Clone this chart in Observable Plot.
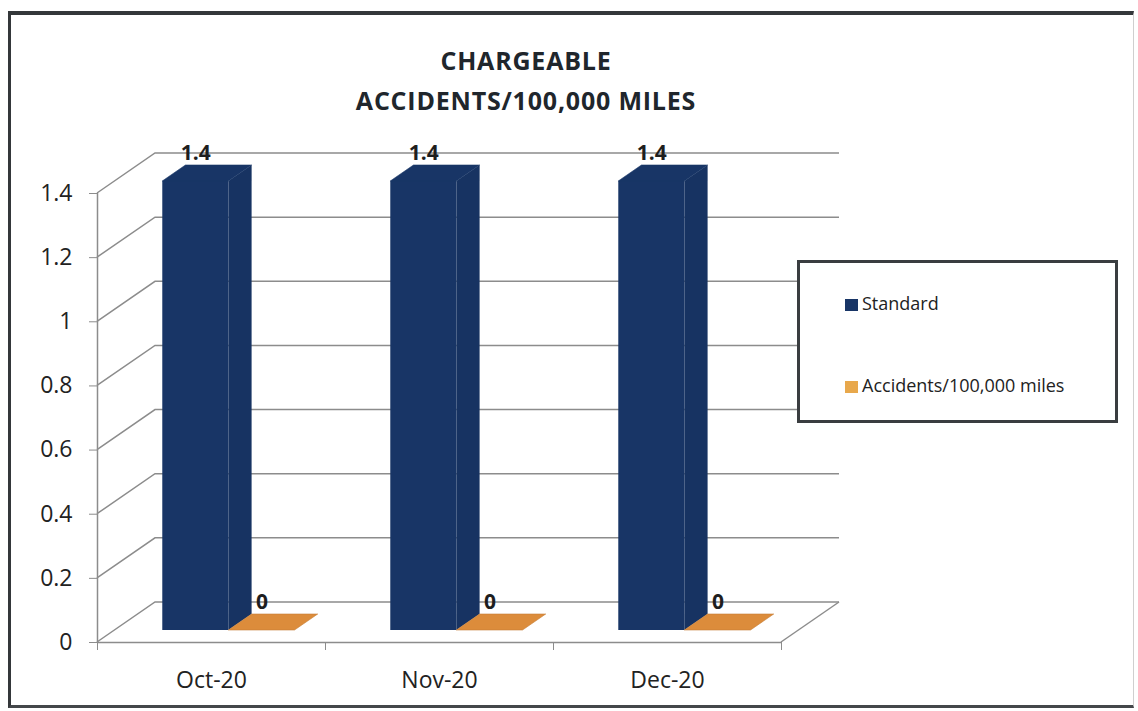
<!DOCTYPE html>
<html>
<head>
<meta charset="utf-8">
<script src="https://cdn.jsdelivr.net/npm/d3@7"></script>
<script src="https://cdn.jsdelivr.net/npm/@observablehq/plot@0.6"></script>
<style>
  body { margin: 0; background: #fff; }
  #page { position: relative; width: 1138px; height: 711px; overflow: hidden; font-family: "Open Sans", sans-serif; background: #fff; }
  #title { height: 120px; box-sizing: border-box; padding-top: 40px; width: 1052px; text-align: center;
           font-weight: 700; font-size: 25px; line-height: 40px; color: #20262c; letter-spacing: 0.8px; }
  #chart { height: 591px; }
  #legend { position: absolute; left: 797px; top: 260px; width: 321px; height: 163px; box-sizing: border-box;
            border: 3px solid #3a3d40; background: #fff; }
  .sw { position: absolute; width: 13px; height: 12px; }
  .lt { position: absolute; font-size: 18px; line-height: 24px; color: #222; white-space: nowrap; }
  #frame { position: absolute; left: 8px; top: 11px; width: 1126px; height: 697px; box-sizing: border-box;
           border-top: 4px solid #34373a; border-left: 3px solid #34373a; border-bottom: 3px solid #44474a;
           border-right: 1px solid #cfcfcf; pointer-events: none; }
</style>
</head>
<body>
<div id="page">
  <div id="title">CHARGEABLE<br>ACCIDENTS/100,000 MILES</div>
  <div id="chart"></div>
  <div id="legend"></div>
  <div id="frame"></div>
</div>
<script>
// ---- data ----
const months = ["Oct-20", "Nov-20", "Dec-20"];
const standardValues = [1.4, 1.4, 1.4];
const accidentValues = [0, 0, 0];
const seriesNames = ["Standard", "Accidents/100,000 miles"];
const seriesColors = ["#183566", "#dc8c3b"];
const legendColors = ["#183566", "#e8a84c"];
const yTicks = [0, 0.2, 0.4, 0.6, 0.8, 1, 1.2, 1.4];

// ---- 3D projection style constants ----
const DEPTH_X = 58, DEPTH_Y = -40;   // pixel projection of full floor depth
const FRONT = 0.3, BACK = 0.7;       // bar depth fractions
const BAR_W = 0.29;                  // fraction of a category slot per series

const rows = [];
months.forEach((m, i) => {
  [standardValues, accidentValues].forEach((vals, s) => {
    const x1 = i + 0.5 - BAR_W + s * BAR_W;
    rows.push({month: m, series: seriesNames[s], s, x1, x2: x1 + BAR_W, xc: x1 + BAR_W / 2, value: vals[i]});
  });
});

const GRID = "#8c8c8c";

function walls(index, {x, y}) {
  const g = d3.create("svg:g").attr("fill", "none").attr("stroke", GRID).attr("stroke-width", 1.5);
  const x0 = x(0), x3 = x(months.length);
  for (const t of yTicks) {
    const yy = y(t);
    g.append("path").attr("d", `M${x0},${yy}L${x0 + DEPTH_X},${yy + DEPTH_Y}L${x3 + DEPTH_X},${yy + DEPTH_Y}`);
  }
  g.append("path").attr("d", `M${x3},${y(0)}L${x3 + DEPTH_X},${y(0) + DEPTH_Y}`);
  return g.node();
}

function bars(index, {x, y}) {
  const g = d3.create("svg:g");
  const fx = FRONT * DEPTH_X, fy = FRONT * DEPTH_Y, bx = BACK * DEPTH_X, by = BACK * DEPTH_Y;
  const poly = pts => pts.map(p => p.join(",")).join(" ");
  for (const r of rows) {
    const c = d3.color(seriesColors[r.s]);
    const L = x(r.x1), R = x(r.x2), B = y(0), T = y(r.value);
    if (T < B) {
      g.append("polygon").attr("points", poly([[R + fx, B + fy], [R + bx, B + by], [R + bx, T + by], [R + fx, T + fy]]))
        .attr("fill", c.darker(0.12).formatHex());
      g.append("polygon").attr("points", poly([[L + fx, B + fy], [R + fx, B + fy], [R + fx, T + fy], [L + fx, T + fy]]))
        .attr("fill", c.formatHex());
    }
    g.append("polygon").attr("points", poly([[L + fx, T + fy], [R + fx, T + fy], [R + bx, T + by], [L + bx, T + by]]))
      .attr("fill", c.formatHex())
      .attr("stroke", r.value === 0 ? c.darker(0.3).formatHex() : c.formatHex()).attr("stroke-width", 0.6);
  }
  return g.node();
}

const chart = Plot.plot({
  width: 1138,
  height: 591,
  marginLeft: 97,
  marginRight: 357,
  marginTop: 73,
  marginBottom: 69,
  x: {domain: [0, months.length]},
  y: {domain: [0, 1.4]},
  style: {fontFamily: '"Open Sans", sans-serif', fontSize: "23px", color: "#222", background: "transparent", overflow: "visible"},
  marks: [
    walls,
    Plot.ruleX([0], {y1: 0, y2: 1.4, stroke: GRID, strokeWidth: 1.5}),
    Plot.ruleY([0], {x1: 0, x2: months.length, stroke: GRID, strokeWidth: 1.5}),
    bars,
    Plot.text(rows, {
      x: "xc", y: "value", text: d => String(d.value),
      dx: FRONT * DEPTH_X, dy: BACK * DEPTH_Y - 12,
      fontWeight: "bold", fontSize: 21, fill: "#1e1e1e"
    }),
    Plot.axisY({ticks: yTicks, tickFormat: d => String(d), tickSize: 8, tickPadding: 17, stroke: GRID, fill: "#222", fontSize: 23, label: null}),
    Plot.axisX({ticks: months.map((m, i) => i + 0.5), tickFormat: d => months[Math.floor(d)], tickSize: 0, tickPadding: 29, fill: "#222", fontSize: 23, label: null}),
    Plot.axisX({ticks: d3.range(months.length + 1), tickFormat: () => "", tickSize: 8, stroke: GRID, label: null})
  ]
});
document.getElementById("chart").append(chart);

// ---- legend ----
const legend = d3.select("#legend");
const legendTops = [28, 110]; // row offsets inside the box
seriesNames.forEach((name, i) => {
  legend.append("div").attr("class", "sw")
    .style("left", "45px").style("top", (legendTops[i] + 8) + "px")
    .style("background", legendColors[i]);
  legend.append("div").attr("class", "lt")
    .style("left", "62px").style("top", legendTops[i] + "px")
    .text(name);
});
</script>
</body>
</html>
